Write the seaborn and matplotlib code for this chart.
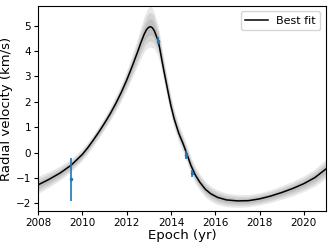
import numpy as np
import pandas as pd
import matplotlib
matplotlib.use("Agg")
import matplotlib.pyplot as plt
import seaborn as sns

# Best-fit curve
fit_epoch = [2008.0, 2008.5, 2009.0, 2009.5, 2010.0, 2010.25, 2010.5, 2010.75, 2011.0,
             2011.25, 2011.5, 2011.75, 2012.0, 2012.25, 2012.5, 2012.65, 2012.8, 2012.9,
             2013.0, 2013.08, 2013.16, 2013.25, 2013.33, 2013.42, 2013.5, 2013.6, 2013.7,
             2013.8, 2013.9, 2014.0, 2014.15, 2014.35, 2014.55, 2014.73, 2014.9, 2015.1,
             2015.3, 2015.55, 2015.8, 2016.1, 2016.5, 2017.0, 2017.5, 2018.0, 2018.5,
             2019.0, 2019.5, 2020.0, 2020.5, 2021.0]
fit_rv = [-1.27, -1.05, -0.80, -0.49, -0.07, 0.20, 0.50, 0.82, 1.16,
          1.52, 1.92, 2.36, 2.85, 3.40, 3.98, 4.35, 4.68, 4.85,
          4.94, 4.96, 4.92, 4.80, 4.62, 4.41, 4.08, 3.60, 3.14,
          2.70, 2.26, 1.84, 1.32, 0.77, 0.35, -0.08, -0.50, -0.88,
          -1.16, -1.44, -1.62, -1.76, -1.86, -1.90, -1.89, -1.82, -1.71,
          -1.57, -1.41, -1.22, -0.98, -0.64]
# outer uncertainty half-width along the curve
fit_spread = [0.34, 0.31, 0.28, 0.25, 0.23, 0.23, 0.23, 0.24, 0.25,
              0.27, 0.30, 0.33, 0.38, 0.45, 0.55, 0.62, 0.70, 0.76,
              0.80, 0.80, 0.78, 0.72, 0.66, 0.60, 0.55, 0.50, 0.46,
              0.43, 0.41, 0.39, 0.37, 0.35, 0.34, 0.33, 0.33, 0.33,
              0.32, 0.31, 0.30, 0.29, 0.27, 0.25, 0.24, 0.24, 0.25,
              0.27, 0.29, 0.31, 0.34, 0.38]

# Observations
obs_epoch = [2009.48, 2013.42, 2014.70, 2014.95]
obs_rv = [-1.05, 4.41, -0.08, -0.82]
obs_err = [0.84, 0.15, 0.15, 0.12]

df = pd.DataFrame({"epoch": fit_epoch, "rv": fit_rv, "spread": fit_spread})

fig = plt.figure(figsize=(3.32, 2.46), dpi=100)
ax = fig.add_axes([0.1145, 0.142, 0.8675, 0.834])

x = np.array(fit_epoch)
y = np.array(fit_rv)
s = np.array(fit_spread)
for frac in (1.0, 0.7, 0.4):
    ax.fill_between(x, y - frac * s, y + frac * s, color="black", alpha=0.09, lw=0)

sns.lineplot(data=df, x="epoch", y="rv", color="black", lw=1.1, ax=ax, label="Best fit")

ax.errorbar(obs_epoch, obs_rv, yerr=obs_err, fmt=".", color="#1f77b4", ms=3,
            elinewidth=1.2, capsize=0, zorder=5)

ax.set_xlim(2008, 2021)
ax.set_ylim(-2.3, 5.78)
ax.set_xticks([2008, 2010, 2012, 2014, 2016, 2018, 2020])
ax.set_yticks([-2, -1, 0, 1, 2, 3, 4, 5])
ax.set_xlabel("Epoch (yr)", fontsize=9.5, labelpad=1)
ax.set_ylabel("Radial velocity (km/s)", fontsize=9.5, labelpad=2)
ax.tick_params(labelsize=7.5, length=3, pad=2)
ax.legend(loc="upper right", fontsize=8, handlelength=2.0)

fig.savefig("out.png", dpi=100)
